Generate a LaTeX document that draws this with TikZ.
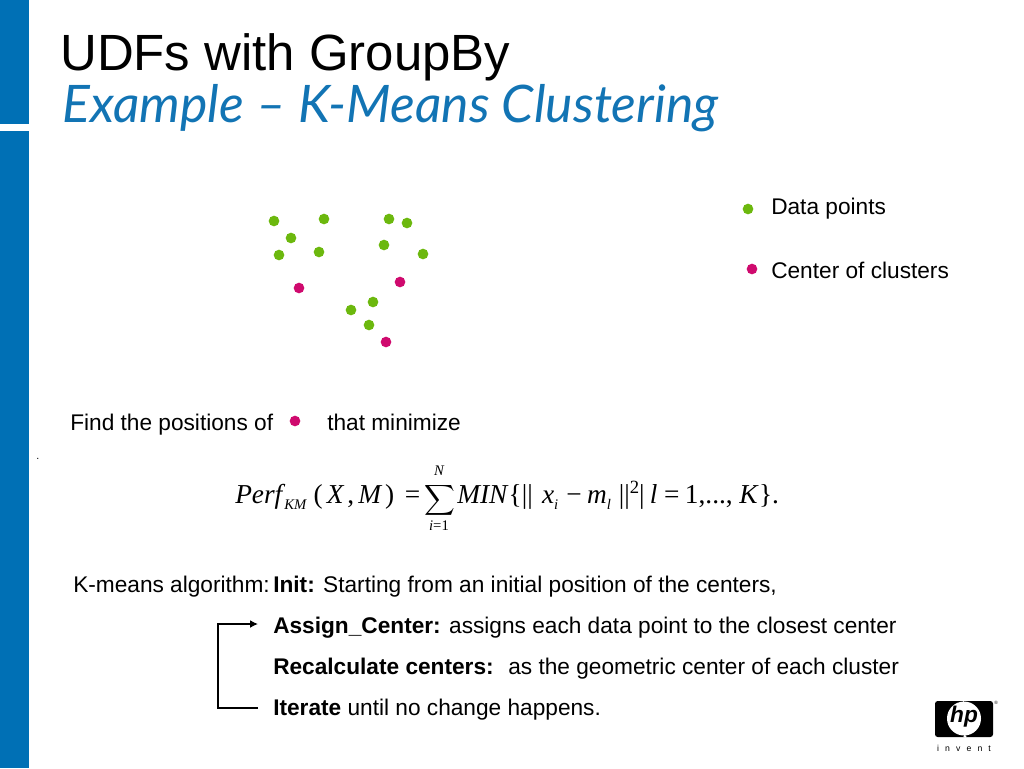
\documentclass[tikz,border=0pt]{standalone}
\usepackage{fontspec}
\usepackage{amsmath}
\usepackage{graphicx}
\usepackage{xcolor}
\usepackage{tikz}
\usetikzlibrary{arrows.meta}
\setmainfont{Liberation Sans}
\newfontfamily\eqfont{Liberation Serif}
\newfontfamily\handfont{Lato}
\definecolor{hpblue}{HTML}{0070B5}
\definecolor{subblue}{HTML}{1274B4}
\definecolor{datagreen}{HTML}{6CB80E}
\definecolor{centerred}{HTML}{CF0A6E}
\newcommand{\eqit}[1]{{\eqfont\itshape #1}}
\newcommand{\eqrm}[1]{{\eqfont #1}}
\newcommand{\eqsub}[1]{\raisebox{-4.5pt}{\fontsize{11}{11}\selectfont\eqfont\itshape #1}}
\tikzset{
    datapt/.style={circle, fill=datagreen, inner sep=0pt, minimum size=8pt},
    centerpt/.style={circle, fill=centerred, inner sep=0pt, minimum size=8pt},
    bodytext/.style={anchor=base west, inner sep=0pt, font=\fontsize{17}{20}\selectfont},
    eqtext/.style={anchor=base west, inner sep=0pt, font=\fontsize{20.5}{24}\selectfont},
    eqlimit/.style={anchor=base, inner sep=0pt, font=\fontsize{11}{13}\selectfont\eqfont\itshape},
    loopline/.style={line width=1.1pt}
}
\begin{document}
\begin{tikzpicture}[x=0.75pt, y=-0.75pt]
        \useasboundingbox (0, 0) rectangle (1024, 768);
        \fill[hpblue] (0, 0) rectangle (29, 124);
        \fill[hpblue] (0, 131) rectangle (29, 768);

        \node[anchor=base west, inner sep=0pt, font=\fontsize{38.2}{44}\selectfont] at (60, 70) (title) {UDFs with GroupBy};
        \node[anchor=base west, inner sep=0pt, text=subblue, font=\fontsize{38.8}{44}\selectfont\handfont\itshape] at (62, 122) (subtitle) {Example – K-Means Clustering};

        \node[datapt] at (274, 221) (d1) {};
        \node[datapt] at (291, 238) (d2) {};
        \node[datapt] at (279, 255) (d3) {};
        \node[datapt] at (324, 219) (d4) {};
        \node[datapt] at (319, 252) (d5) {};
        \node[datapt] at (389, 219) (d6) {};
        \node[datapt] at (407, 223) (d7) {};
        \node[datapt] at (384, 245) (d8) {};
        \node[datapt] at (423, 254) (d9) {};
        \node[datapt] at (373, 302) (d10) {};
        \node[datapt] at (351, 310) (d11) {};
        \node[datapt] at (369, 325) (d12) {};
        \node[centerpt] at (299, 288) (c1) {};
        \node[centerpt] at (400, 282) (c2) {};
        \node[centerpt] at (386, 342) (c3) {};

        \node[datapt] at (748, 209) (legdata) {};
        \node[centerpt] at (752, 269) (legcenter) {};
        \node[bodytext] at (771, 214) (legdatatext) {Data points};
        \node[bodytext] at (771, 278) (legcentertext) {Center of clusters};

        \node[bodytext] at (70, 430) (find) {Find the positions of};
        \node[centerpt] at (295, 421) (findpt) {};
        \node[bodytext] at (327, 430) (minimize) {that minimize};
        \node[anchor=base west, inner sep=0pt, font=\fontsize{8}{8}\selectfont] at (36, 459) (dot) {.};

        \node[eqtext] at (235, 503) (eqleft)
            {\eqit{Perf}\hspace{1.5pt}\eqsub{KM}\hspace{5.5pt}\eqrm{(}\hspace{3pt}\eqit{X}\hspace{3pt}\eqrm{,}\hspace{3pt}\eqit{M}\hspace{3pt}\eqrm{)}\hspace{8pt}\eqrm{=}};
        \node[anchor=base, inner sep=0pt] at (440, 506) (eqsum) {\scalebox{1.6}{$\displaystyle\sum$}};
        \node[eqlimit] at (439, 475) (eqtop) {N};
        \node[eqlimit] at (439, 530) (eqbot) {i\upshape =1};
        \node[eqtext] at (457, 503) (eqright)
            {\eqit{MIN}\hspace{1pt}\eqrm{\{||}\hspace{7pt}\eqit{x}\eqsub{i}\hspace{6pt}\eqrm{−}\hspace{4pt}\eqit{m}\eqsub{l}\hspace{6pt}\eqrm{||}\raisebox{7pt}{\fontsize{14}{14}\selectfont\eqfont 2}\eqrm{|}\hspace{4pt}\eqit{l}\hspace{5pt}\eqrm{=}\hspace{4pt}\eqrm{1,...,}\hspace{5pt}\eqit{K}\hspace{1pt}\eqrm{\}.}};

        \node[bodytext] at (73, 592) (algo) {K-means algorithm:};
        \node[bodytext] at (273, 592) (init) {\textbf{Init:} Starting from an initial position of the centers,};
        \node[bodytext] at (273, 633) (assign) {\textbf{Assign\_Center:} assigns each data point to the closest center};
        \node[bodytext] at (273, 674) (recalc) {\textbf{Recalculate centers:}\ \hspace{6.2pt}as the geometric center of each cluster};
        \node[bodytext] at (273, 715) (iter) {\textbf{Iterate} until no change happens.};

        \coordinate (loopout) at (258, 708);
        \coordinate (loopbot) at (218, 708);
        \coordinate (looptop) at (218, 624);
        \coordinate (loopin) at (258, 624);
        \draw[loopline, -{Latex[length=6pt, width=6pt]}] (loopout) -- (loopbot) -- (looptop) -- (loopin);

        \node[fill=black, rounded corners=2pt, inner sep=0pt, minimum width=43.5pt, minimum height=27pt] at (964, 719) (hpbox) {};
        \node[circle, fill=white, inner sep=0pt, minimum size=25.5pt] at (964, 718.5) (hpdisc) {};
        \node[inner sep=0pt, font=\fontsize{17}{17}\selectfont\bfseries\itshape] at (964, 717) (hpmark) {hp};
        \draw[white, line width=1.6pt] (963.5, 701) -- (hpdisc.north);
        \draw[white, line width=1.6pt] (966, 737) -- (hpdisc.south);
        \node[anchor=base, inner sep=0pt, font=\fontsize{6.5}{8}\selectfont] at (964, 751) (invent) {i\hspace{4.6pt}n\hspace{4.6pt}v\hspace{4.6pt}e\hspace{4.6pt}n\hspace{4.6pt}t};
        \node[inner sep=0pt, font=\fontsize{3.5}{4}\selectfont] at (996, 703) (hpreg) {®};
    \end{tikzpicture}
\end{document}
